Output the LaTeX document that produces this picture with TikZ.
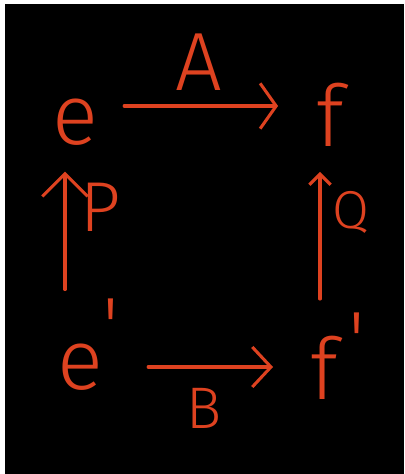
\documentclass[tikz,border=0pt]{standalone}
\usepackage{fontspec}
\newfontfamily\hand{Fira Sans Light}
\usetikzlibrary{arrows.meta}
\definecolor{ink}{RGB}{222,66,32}
\tikzset{
  lab/.style={inner sep=0pt, text=ink, font=\hand},
  big/.style={lab, font=\hand\fontsize{64}{64}\selectfont},
  primemark/.style={lab, font=\hand\fontsize{62}{62}\selectfont},
  stroke/.style={draw=ink, line width=2.3pt, line cap=round, line join=round},
  arrA/.style={stroke, -{Straight Barb[length=12pt,width=34pt,line width=2.3pt]}},
  arrP/.style={stroke, -{Straight Barb[length=17pt,width=34pt,line width=2.3pt]}},
  arrQ/.style={stroke, -{Straight Barb[length=8pt,width=16pt,line width=2.3pt]}},
  arrB/.style={stroke, -{Straight Barb[length=14pt,width=30pt,line width=2.3pt]}}
}
\begin{document}
\begin{tikzpicture}[x=0.75pt,y=-0.75pt]
\useasboundingbox (0,0) rectangle (404,474);
\fill[white] (0,0) rectangle (404,474);
\fill[black] (5,4) rectangle (404,474);
% objects
\node[big] (e) at (75,122) {e};
\node[big] (f) at (330,115) {f};
\node[big] (e2) at (80,367) {e};
\node[primemark] (e2p) at (111,327) {\textquotesingle};
\node[big] (f2) at (324,368) {f};
\node[primemark] (f2p) at (357,341) {\textquotesingle};
% labels
\node[lab, font=\hand\fontsize{62}{62}\selectfont] (A) at (199,62) {A};
\node[lab, font=\hand\fontsize{53}{53}\selectfont] (P) at (101,207) {P};
\node[lab, font=\hand\fontsize{40}{40}\selectfont] (Q) at (351,212) {Q};
\node[lab, font=\hand\fontsize{44}{44}\selectfont] (B) at (204,408) {B};
% connectors
\draw[arrA] ([shift={(26,-16)}]e.east) -- ([shift={(-38,-9)}]f.west);
\draw[arrP] ([shift={(-15,-54)}]e2.north) -- ([shift={(-10,26)}]e.south);
\draw[arrQ] ([shift={(-4,-37)}]f2.north) -- ([shift={(-10,25)}]f.south);
\draw[arrB] ([shift={(45,0)}]e2.east) -- ([shift={(-37,-1)}]f2.west);
\end{tikzpicture}
\end{document}
